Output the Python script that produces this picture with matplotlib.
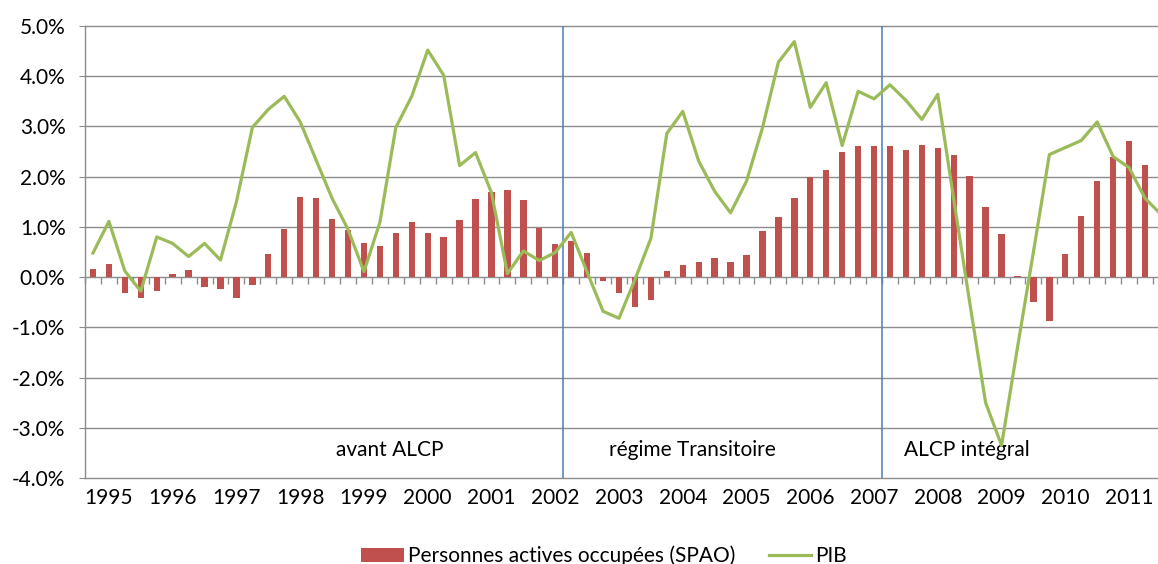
import matplotlib
matplotlib.use('Agg')
import matplotlib.pyplot as plt
import numpy as np
from matplotlib.patches import Patch
from matplotlib.lines import Line2D

# ---- data (quarterly growth rates, %, starting 1994 Q4) ----
annees = [str(y) for y in range(1995, 2012)]
spao = [0.17, 0.27, -0.31, -0.41, -0.27, 0.07, 0.15, -0.20, -0.23, -0.42,
        -0.15, 0.47, 0.96, 1.59, 1.57, 1.16, 0.93, 0.68, 0.62, 0.88,
        1.10, 0.88, 0.80, 1.14, 1.56, 1.70, 1.73, 1.54, 0.97, 0.66,
        0.71, 0.48, -0.07, -0.31, -0.59, -0.45, 0.13, 0.25, 0.31, 0.38,
        0.31, 0.44, 0.92, 1.20, 1.57, 1.99, 2.14, 2.50, 2.61, 2.62,
        2.62, 2.53, 2.63, 2.58, 2.44, 2.01, 1.40, 0.85, 0.02, -0.49,
        -0.87, 0.46, 1.21, 1.92, 2.40, 2.72, 2.23, 2.48]
pib = [0.48, 1.11, 0.12, -0.28, 0.80, 0.67, 0.41, 0.67, 0.34, 1.50,
       2.98, 3.34, 3.60, 3.09, 2.33, 1.57, 0.95, 0.11, 1.09, 2.98,
       3.60, 4.52, 4.02, 2.22, 2.48, 1.68, 0.07, 0.52, 0.33, 0.49,
       0.89, 0.10, -0.68, -0.82, -0.05, 0.77, 2.86, 3.30, 2.31, 1.71,
       1.28, 1.91, 2.97, 4.28, 4.69, 3.38, 3.87, 2.62, 3.70, 3.55,
       3.83, 3.52, 3.14, 3.64, 1.55, -0.50, -2.50, -3.35, -1.40, 0.50,
       2.44, 2.58, 2.72, 3.09, 2.40, 2.18, 1.57, 1.25]
regime_limites = [30, 50]          # quarter index where 2002 Q2 and 2007 Q2 start
regimes = ["avant ALCP", "régime Transitoire", "ALCP intégral"]
regime_pos = [19.1, 38.1, 55.3]
serie_noms = ["Personnes actives occupées (SPAO)", "PIB"]

plt.rcParams['font.family'] = ['Lato', 'DejaVu Sans']

RED = '#C0504D'
GREEN = '#9BBB59'
BLUE = '#4A7EBB'
GRID = '#8C8C8C'
FS = 15

W, H = 1158, 564
fig = plt.figure(figsize=(W / 100, H / 100), dpi=100)
n_slots = 69
slot_px = 15.94
ax = fig.add_axes([85 / W, (H - 478) / H, n_slots * slot_px / W, (478 - 26) / H])

x = np.arange(len(spao)) + 0.5
ax.bar(x, spao, width=0.4, color=RED, zorder=3)
ax.plot(x, pib, color=GREEN, lw=2.3, zorder=4, solid_joinstyle='round')
for b in regime_limites:
    ax.axvline(b, color=BLUE, lw=1.1, zorder=2)

ax.set_xlim(0, n_slots)
ax.set_ylim(-4, 5)
ax.set_yticks(np.arange(-4, 6, 1))
ax.yaxis.set_major_formatter(lambda v, p: f"{v:.1f}%")
ax.grid(axis='y', color=GRID, lw=1.0, zorder=1)
for gl in ax.get_ygridlines():
    gl.set_clip_on(False)
ax.set_axisbelow(True)

for s in ['top', 'right', 'bottom']:
    ax.spines[s].set_visible(False)
ax.spines['left'].set_color(GRID)
ax.spines['left'].set_linewidth(1.0)
ax.tick_params(axis='y', direction='out', length=4, color=GRID, pad=10,
               labelsize=FS, labelcolor='black')

ax.set_xticks(1.5 + 4 * np.arange(len(annees)))
ax.set_xticklabels(annees)
ax.tick_params(axis='x', length=0, pad=7, labelsize=FS, labelcolor='black')

# category tick marks on the zero line
sec = ax.secondary_xaxis(4 / 9)
sec.set_xticks(np.arange(0, n_slots + 1))
sec.tick_params(axis='x', which='both', bottom=True, top=False,
                labelbottom=False, labeltop=False, direction='out',
                length=5, color=GRID, width=1.0)
for s in sec.spines.values():
    s.set_visible(False)

for lab, xp in zip(regimes, regime_pos):
    ax.text(xp, -3.44, lab, ha='center', va='center', fontsize=FS, color='black')

handles = [Patch(facecolor=RED, edgecolor='none'),
           Line2D([], [], color=GREEN, lw=2.3)]
fig.legend(handles, serie_noms, loc='center', bbox_to_anchor=(604 / W, (H - 556) / H),
           ncol=2, frameon=False, fontsize=FS, handlelength=2.05,
           handletextpad=0.18, columnspacing=1.6, borderaxespad=0)

fig.savefig('out.png', dpi=100)
